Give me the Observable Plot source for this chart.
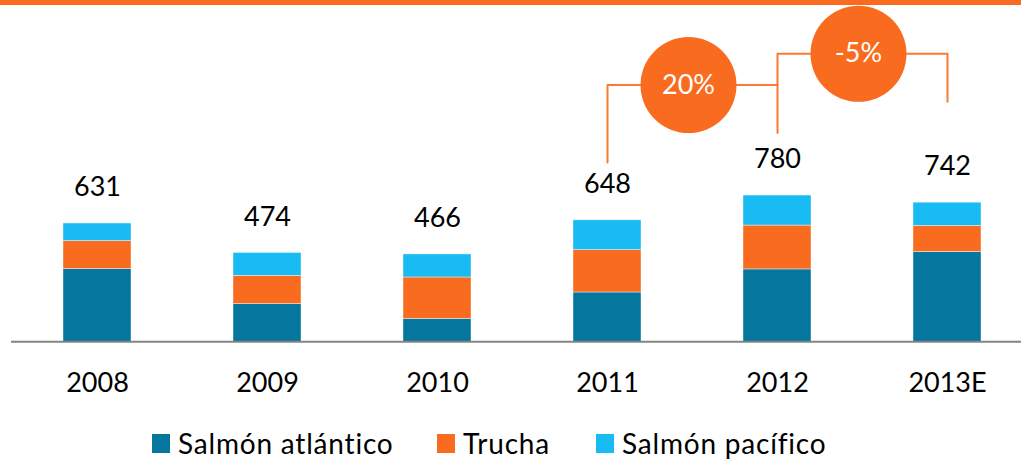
<!DOCTYPE html>
<html>
<head>
<meta charset="utf-8">
<script src="https://cdn.jsdelivr.net/npm/d3@7"></script>
<script src="https://cdn.jsdelivr.net/npm/@observablehq/plot@0.6"></script>
<style>
  html, body { margin: 0; padding: 0; background: #fff; }
  body { width: 1021px; height: 459px; overflow: hidden; position: relative; font-family: Lato, "Open Sans", sans-serif; }
  #topbar { height: 5px; background: #F96B1E; }
  #legend { position: absolute; top: 427px; left: 0; width: 1021px; height: 32px; font-size: 28px; letter-spacing: 0.8px; color: #000; white-space: nowrap; }
  #legend .item { position: absolute; top: 0; display: flex; align-items: center; height: 32px; }
  #legend .item:nth-child(1) { left: 152px; }
  #legend .item:nth-child(2) { left: 437px; }
  #legend .item:nth-child(3) { left: 596px; }
  #legend .sw { width: 18px; height: 19px; margin-right: 8px; }
</style>
</head>
<body>
<div id="topbar"></div>
<div id="chart"></div>
<div id="legend"></div>
<script>
const years = ["2008", "2009", "2010", "2011", "2012", "2013E"];
const atlantico = [388, 201, 122, 263, 386, 479];
const trucha = [149, 151, 221, 226, 234, 139];
const pacifico = [94, 122, 123, 159, 160, 124];
const totals = [631, 474, 466, 648, 780, 742];
const seriesNames = ["Salmón atlántico", "Trucha", "Salmón pacífico"];
const seriesColors = ["#05779F", "#F96B1E", "#19BBF3"];

// growth annotations
const changeLabels = ["20%", "-5%"];
const changeFrom = ["2011", "2012"];
const changeTo = ["2012", "2013E"];
const bracketLevel = [1369, 1536];
const legFromEnd = [956, 1369];
const legToEnd = [1113, 1280];

const seriesValues = [atlantico, trucha, pacifico];
const rows = [];
seriesNames.forEach((s, si) => {
  years.forEach((y, i) => rows.push({year: y, series: s, value: seriesValues[si][i]}));
});
const totalRows = years.map((y, i) => ({year: y, total: totals[i]}));

const bracketPts = [];
changeLabels.forEach((lab, i) => {
  bracketPts.push({k: lab, x: changeFrom[i], y: legFromEnd[i]});
  bracketPts.push({k: lab, x: changeFrom[i], y: bracketLevel[i]});
  bracketPts.push({k: lab, x: changeTo[i], y: bracketLevel[i]});
  bracketPts.push({k: lab, x: changeTo[i], y: legToEnd[i]});
});
const circles = changeLabels.map((lab, i) => ({label: lab, x: changeFrom[i], y: bracketLevel[i]}));

const base = 336.3;
const chart = Plot.plot({
  width: 1021,
  height: 413,
  marginTop: 0,
  marginLeft: 11,
  marginRight: 0,
  marginBottom: 77,
  style: {fontFamily: "Lato, 'Open Sans', sans-serif", background: "transparent"},
  x: {domain: years, range: [11.1, 1033.7], paddingInner: 0.6, paddingOuter: 0.3, axis: null},
  y: {domain: [0, 1000], range: [base, base - 187.5], axis: null},
  color: {domain: seriesNames, range: seriesColors},
  marks: [
    Plot.barY(rows, {x: "year", y: "value", fill: "series", stroke: "#ffffff", strokeWidth: 0.6, strokeOpacity: 0.7}),
    Plot.ruleY([0], {stroke: "#848484", strokeWidth: 2}),
    Plot.text(totalRows, {x: "year", y: "total", text: d => String(d.total), dy: -36, fontSize: 27, fill: "#000", lineAnchor: "middle"}),
    Plot.text(years, {x: d => d, y: 0, text: d => d, dy: 41.5, fontSize: 27, fill: "#000", lineAnchor: "middle"}),
    Plot.line(bracketPts, {x: "x", y: "y", z: "k", stroke: "#F97A32", strokeWidth: 2}),
    Plot.dot(circles, {x: "x", y: "y", r: 48, fill: "#F96B1E", dx: 81}),
    Plot.text(circles, {x: "x", y: "y", text: "label", dx: 81, fill: "#fff", fontSize: 27, lineAnchor: "middle"})
  ]
});
document.getElementById("chart").appendChild(chart);

const legend = document.getElementById("legend");
seriesNames.forEach((s, i) => {
  const item = document.createElement("div");
  item.className = "item";
  const sw = document.createElement("div");
  sw.className = "sw";
  sw.style.background = seriesColors[i];
  const t = document.createElement("span");
  t.textContent = s;
  item.appendChild(sw);
  item.appendChild(t);
  legend.appendChild(item);
});
</script>
</body>
</html>
